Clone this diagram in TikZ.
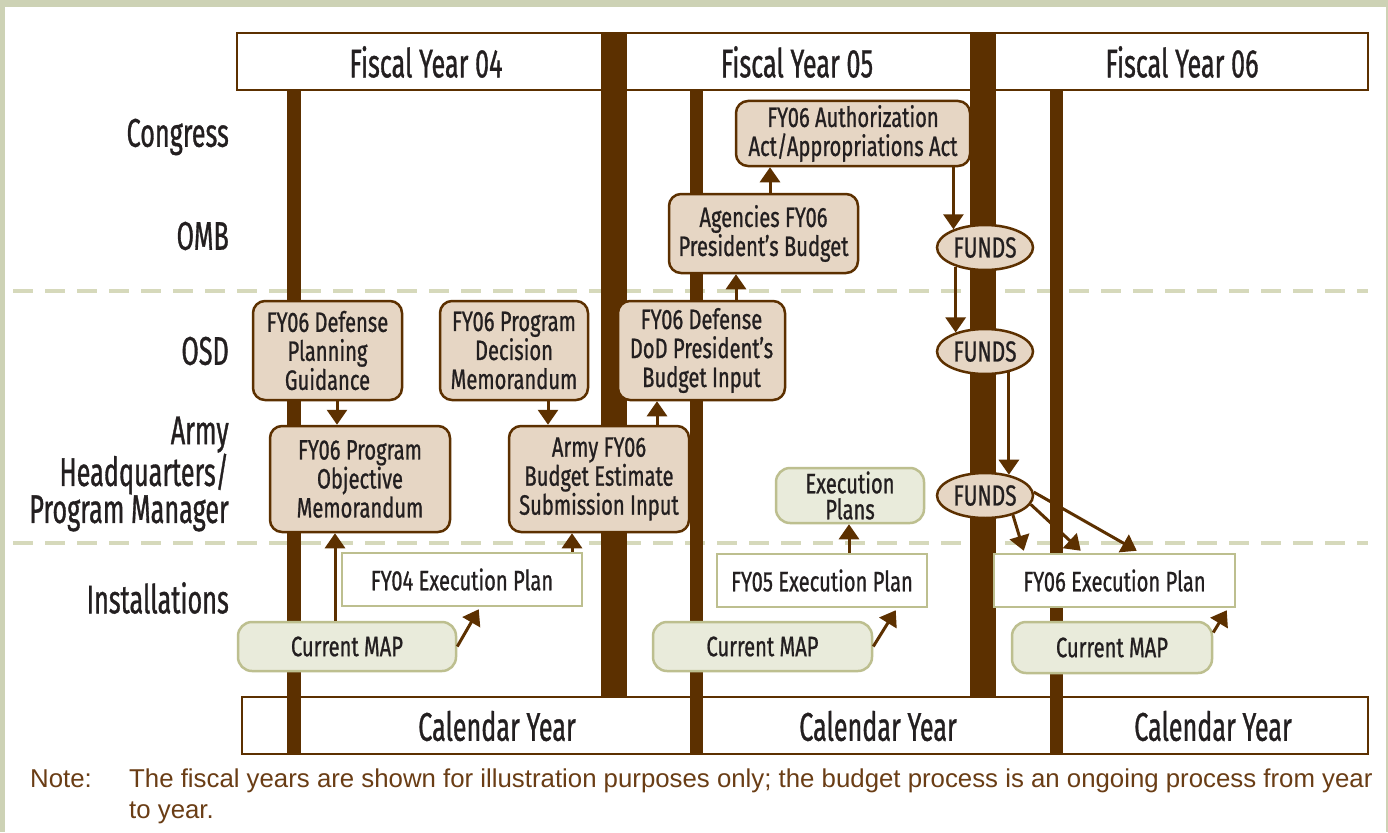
\documentclass[tikz,border=0pt]{standalone}
\usepackage{fontspec}
\setmainfont{Liberation Sans}
\newfontfamily\cf[FakeStretch=0.72,FakeBold=0.8]{Fira Sans}
\newfontfamily\cfb[FakeStretch=0.63,FakeBold=0.8]{Fira Sans}
\usetikzlibrary{arrows.meta,shapes.geometric,calc}
\definecolor{brn}{HTML}{5C3000}
\definecolor{bge}{HTML}{E6D6C4}
\definecolor{grn}{HTML}{E9EBDB}
\definecolor{olv}{HTML}{BDBF8F}
\definecolor{dsh}{HTML}{D6D9BB}
\definecolor{frm}{HTML}{CDD2B5}
\definecolor{ink}{HTML}{231F20}
\definecolor{notec}{HTML}{6A3D15}
\begin{document}
\begin{tikzpicture}[x=1pt,y=-1pt,
  bx/.style={draw=brn, fill=bge, line width=2.5pt, rounded corners=12pt, align=center, inner sep=0pt, text=ink, font=\cf\fontsize{28}{29}\selectfont},
  gbx/.style={draw=olv, fill=grn, line width=2.5pt, rounded corners=14pt, align=center, inner sep=0pt, text=ink, font=\cf\fontsize{28}{26}\selectfont},
  wbx/.style={draw=olv, fill=white, line width=2.5pt, align=center, inner sep=0pt, text=ink, font=\cf\fontsize{28}{29}\selectfont},
  fund/.style={ellipse, draw=brn, fill=bge, line width=2.5pt, minimum width=96pt, minimum height=45pt, inner sep=0pt, text=ink, font=\cf\fontsize{29}{29}\selectfont},
  lbl/.style={anchor=east, align=right, inner sep=0pt, text=ink, font=\cfb\fontsize{40}{37}\selectfont},
  hdr/.style={text=ink, font=\cfb\fontsize{40}{40}\selectfont},
  arr/.style={draw=brn, line width=3pt, -{Triangle[length=15pt,width=20pt]}},
  dline/.style={draw=dsh, line width=3.5pt, dash pattern=on 20pt off 12pt},
  bar/.style={fill=brn}
]
\useasboundingbox (0,0) rectangle (1388,832);
% frame
\fill[frm] (0,0) rectangle (1388,832);
\fill[white] (5,7) rectangle (1386,832);
% dashed separators
\draw[dline] (13,291) -- (1368,291);
\draw[dline] (13,543) -- (1368,543);
% header and calendar boxes
\draw[brn, fill=white, line width=2.5pt] (237,33) rectangle (1368,90);
\draw[brn, fill=white, line width=2.5pt] (242,697) rectangle (1368,754);
% bars
\fill[bar] (601,33) rectangle (627,697);
\fill[bar] (970,33) rectangle (996,697);
\fill[bar] (287,90) rectangle (301,754);
\fill[bar] (690,90) rectangle (703,754);
\fill[bar] (1050,90) rectangle (1063,754);
% header texts
\node[hdr] (h04) at (426,62) {Fiscal Year 04};
\node[hdr] (h05) at (797,62) {Fiscal Year 05};
\node[hdr] (h06) at (1182,62) {Fiscal Year 06};
\node[hdr] (c04) at (497,726) {Calendar Year};
\node[hdr] (c05) at (878,726) {Calendar Year};
\node[hdr] (c06) at (1213,726) {Calendar Year};
% row labels
\node[lbl] (lcong) at (229,137) {Congress};
\node[lbl] (lomb) at (229,236) {OMB};
\node[lbl] (losd) at (229,351) {OSD};
\node[lbl] (larmy) at (229,474) {Army\\Headquarters/\\Program Manager};
\node[lbl] (linst) at (229,598) {Installations};
% boxes
\node[bx, minimum width=234pt, minimum height=65pt] (auth) at (853,133.5) {FY06 Authorization\\Act/Appropriations Act};
\node[bx, minimum width=189pt, minimum height=79pt] (agen) at (763.5,233.5) {Agencies FY06\\President’s Budget};
\node[bx, minimum width=149pt, minimum height=99pt] (dpg) at (327.5,350.5) {FY06 Defense\\Planning\\Guidance};
\node[bx, minimum width=148pt, minimum height=99pt] (pdm) at (514,350.5) {FY06 Program\\Decision\\Memorandum};
\node[bx, minimum width=167pt, minimum height=99pt] (dpb) at (701.5,350.5) {FY06 Defense\\DoD President’s\\Budget Input};
\node[bx, minimum width=180pt, minimum height=106pt] (pom) at (360,479) {FY06 Program\\Objective\\Memorandum};
\node[bx, minimum width=180pt, minimum height=106pt] (bes) at (599,479) {Army FY06\\Budget Estimate\\Submission Input};
\node[fund] (f1) at (985,247.5) {FUNDS};
\node[fund] (f2) at (985,351.5) {FUNDS};
\node[fund] (f3) at (985,495.5) {FUNDS};
\node[gbx, minimum width=148pt, minimum height=55pt] (ep) at (850,495.5) {Execution\\Plans};
\node[wbx, minimum width=240pt, minimum height=53pt] (x04) at (462,579.5) {FY04 Execution Plan};
\node[wbx, minimum width=210pt, minimum height=53pt] (x05) at (822,580.5) {FY05 Execution Plan};
\node[wbx, minimum width=241pt, minimum height=53pt] (x06) at (1114.5,580.5) {FY06 Execution Plan};
\node[gbx, minimum width=218pt, minimum height=49pt] (m1) at (347,646.5) {Current MAP};
\node[gbx, minimum width=219pt, minimum height=49pt] (m2) at (762.5,646.5) {Current MAP};
\node[gbx, minimum width=200pt, minimum height=51pt] (m3) at (1112,647.5) {Current MAP};
% arrows
\draw[arr] ($(agen.north)+(6.5,0)$) -- ($(auth.south)+(-83,0)$);
\draw[arr] ($(dpb.north)+(34.5,0)$) -- ($(agen.south)+(-27.5,0)$);
\draw[arr] (auth.south -| f1.150) -- (f1.150);
\draw[arr] (f1.213) -- (f1.213 |- f2.147);
\draw[arr] (f2.319) -- (f2.319 |- f3.41);
\draw[arr] (f3.325) -- ($(x06.north west)+(31,-2)$);
\draw[arr] (f3.349) -- ($(x06.north west)+(88,-2)$);
\draw[arr] (f3.4) -- ($(x06.north west)+(144,-2)$);
\draw[arr] ($(dpg.south)+(9.5,0)$) -- ($(pom.north)+(-23,0)$);
\draw[arr] ($(pdm.south)+(34,0)$) -- ($(bes.north)+(-51,0)$);
\draw[arr] ($(bes.north)+(58,0)$) -- ($(dpb.south)+(-44.5,0)$);
\draw[arr] ($(m1.north)+(-12,0)$) -- ($(pom.south)+(-25,0)$);
\draw[arr] ($(x04.north)+(110,0)$) -- ($(bes.south)+(-27,0)$);
\draw[arr] (m1.east) -- ($(x04.south west)+(138,2)$);
\draw[arr] ($(x05.north)+(27,0)$) -- ($(ep.south)+(-1,0)$);
\draw[arr] (m2.east) -- ($(x05.south west)+(180,2)$);
\draw[arr] ($(m3.east)+(0,-15)$) -- ($(x06.south west)+(234,2)$);
% note
\node[anchor=base west, text=notec, font=\fontsize{25.8}{26}\selectfont, inner sep=0pt] (nlab) at (30,787) {Note:};
\node[anchor=base west, text=notec, font=\fontsize{25.8}{26}\selectfont, inner sep=0pt] (n1) at (129,787) {The fiscal years are shown for illustration purposes only; the budget process is an ongoing process from year};
\node[anchor=base west, text=notec, font=\fontsize{25.8}{26}\selectfont, inner sep=0pt] (n2) at (129,818) {to year.};
\end{tikzpicture}
\end{document}
